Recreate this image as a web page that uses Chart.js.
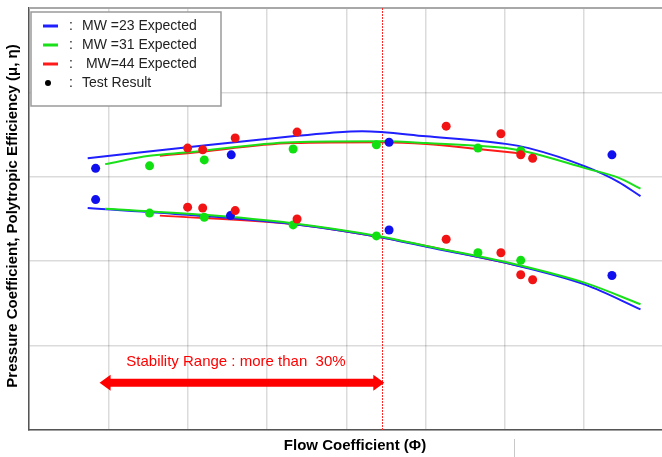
<!DOCTYPE html>
<html>
<head>
<meta charset="utf-8">
<script src="https://cdn.jsdelivr.net/npm/chart.js@4.4.1/dist/chart.umd.min.js"></script>
<style>
  html, body { margin: 0; padding: 0; background: #fff; overflow: hidden; }
  #wrap { width: 668px; height: 457px; }
</style>
</head>
<body>
<div id="wrap"><canvas id="flow-chart" width="668" height="457"></canvas></div>
<script>
// expected curves, [flow coefficient, value]
const mw23Eff = [[0.74, 3.22], [2.0, 3.35], [3.32, 3.48], [3.79, 3.52], [4.2, 3.54], [5.01, 3.48], [6.01, 3.39], [6.3, 3.34], [7.02, 3.12], [7.43, 2.94], [7.71, 2.77]];
const mw31Eff = [[0.96, 3.15], [1.52, 3.25], [2.0, 3.29], [3.32, 3.41], [4.45, 3.42], [5.01, 3.4], [6.01, 3.34], [6.3, 3.29], [7.02, 3.1], [7.43, 2.99], [7.71, 2.86]];
const mw44Eff = [[1.65, 3.25], [2.0, 3.28], [3.32, 3.4], [4.45, 3.41], [5.01, 3.39], [5.66, 3.33], [6.26, 3.27]];
const mw23Psi = [[0.74, 2.63], [2.0, 2.55], [3.32, 2.44], [4.45, 2.28], [5.01, 2.17], [6.01, 1.98], [7.02, 1.72], [7.71, 1.43]];
const mw31Psi = [[0.96, 2.62], [2.21, 2.55], [3.32, 2.45], [4.45, 2.29], [5.01, 2.18], [6.01, 1.99], [7.02, 1.74], [7.71, 1.49]];
const mw44Psi = [[1.65, 2.54], [3.32, 2.44], [4.45, 2.28], [6.01, 1.98], [6.3, 1.92]];

// test results
const mw23Test = [[0.84, 3.1], [2.55, 3.26], [4.54, 3.41], [7.35, 3.26], [0.84, 2.73], [2.54, 2.54], [4.54, 2.37], [7.35, 1.83]];
const mw31Test = [[1.52, 3.13], [2.21, 3.2], [3.33, 3.33], [4.38, 3.38], [5.66, 3.34], [6.2, 3.31], [1.52, 2.57], [2.21, 2.52], [3.33, 2.43], [4.38, 2.3], [5.66, 2.1], [6.2, 2.01]];
const mw44Test = [[2.0, 3.34], [2.19, 3.32], [2.6, 3.46], [3.38, 3.53], [5.26, 3.6], [5.95, 3.51], [6.2, 3.26], [6.35, 3.22], [2.0, 2.64], [2.19, 2.63], [2.6, 2.6], [3.38, 2.5], [5.26, 2.26], [5.95, 2.1], [6.2, 1.84], [6.35, 1.78]];

const legendLabels = ['MW =23 Expected', 'MW =31 Expected', ' MW=44 Expected', 'Test Result'];
const legendColors = ['#1f1fff', '#19e019', '#ff1a1a', '#000000'];

const stabilityLimit = 4.45;
const stabilitySpan = [0.89, 4.48];
const stabilityLevel = 0.56;
const stabilityText = 'Stability Range : more than  30%';

const xTitle = 'Flow Coefficient (Φ)';
const yTitle = 'Pressure Coefficient, Polytropic Efficiency (μ, η)';

const toPts = (arr) => arr.map(([x, y]) => ({x, y}));

// chart.js paints the first dataset on top, so marks come first here
const dots = (data, color) => ({
  type: 'scatter',
  data: toPts(data),
  backgroundColor: color,
  borderWidth: 0,
  pointRadius: 4.5,
});

const curve = (data, color) => ({
  type: 'line',
  data: toPts(data),
  borderColor: color,
  borderWidth: 2,
  pointRadius: 0,
  cubicInterpolationMode: 'monotone',
  fill: false,
});

const overlay = {
  id: 'overlay',
  beforeDatasetsDraw(chart) {
    const {ctx, chartArea: a, scales: {x}} = chart;
    ctx.save();
    ctx.strokeStyle = '#a8a8a8';
    ctx.lineWidth = 2;
    ctx.beginPath();
    ctx.moveTo(a.left, a.top);
    ctx.lineTo(a.right, a.top);
    ctx.stroke();

    const sx = Math.round(x.getPixelForValue(stabilityLimit)) + 0.5;
    ctx.strokeStyle = '#ff2a2a';
    ctx.lineWidth = 1;
    ctx.setLineDash([2, 1]);
    ctx.beginPath();
    ctx.moveTo(sx, a.top);
    ctx.lineTo(sx, a.bottom);
    ctx.stroke();
    ctx.restore();
  },
  afterDatasetsDraw(chart) {
    const {ctx, scales: {x, y}} = chart;
    ctx.save();

    // stability arrow
    const x1 = x.getPixelForValue(stabilitySpan[0]);
    const x2 = x.getPixelForValue(stabilitySpan[1]);
    const ay = y.getPixelForValue(stabilityLevel);
    const head = 11, half = 8, shaft = 4;
    ctx.fillStyle = '#ff0000';
    ctx.beginPath();
    ctx.moveTo(x1, ay);
    ctx.lineTo(x1 + head, ay - half);
    ctx.lineTo(x1 + head, ay - shaft);
    ctx.lineTo(x2 - head, ay - shaft);
    ctx.lineTo(x2 - head, ay - half);
    ctx.lineTo(x2, ay);
    ctx.lineTo(x2 - head, ay + half);
    ctx.lineTo(x2 - head, ay + shaft);
    ctx.lineTo(x1 + head, ay + shaft);
    ctx.lineTo(x1 + head, ay + half);
    ctx.closePath();
    ctx.fill();

    ctx.font = '15px "Liberation Sans", Arial, sans-serif';
    ctx.textAlign = 'center';
    ctx.textBaseline = 'middle';
    ctx.fillText(stabilityText, (x1 + x2) / 2 - 6, ay - 21);

    // legend box
    const lx = 31, ly = 12, lw = 190, lh = 94;
    ctx.fillStyle = '#fff';
    ctx.fillRect(lx, ly, lw, lh);
    ctx.strokeStyle = '#9a9a9a';
    ctx.lineWidth = 1.5;
    ctx.strokeRect(lx, ly, lw, lh);
    ctx.textAlign = 'left';
    ctx.font = '14px "Liberation Sans", Arial, sans-serif';
    legendLabels.forEach((label, i) => {
      const ry = 26 + i * 19;
      if (i < 3) {
        ctx.strokeStyle = legendColors[i];
        ctx.lineWidth = 3;
        ctx.beginPath();
        ctx.moveTo(43, ry);
        ctx.lineTo(58, ry);
        ctx.stroke();
      } else {
        ctx.fillStyle = legendColors[i];
        ctx.beginPath();
        ctx.arc(48, ry, 3, 0, Math.PI * 2);
        ctx.fill();
      }
      ctx.fillStyle = '#222';
      ctx.fillText(':', 69, ry);
      ctx.fillText(label, 82, ry);
    });

    // axis titles
    ctx.fillStyle = '#000';
    ctx.font = 'bold 15px "Liberation Sans", Arial, sans-serif';
    ctx.textAlign = 'center';
    ctx.fillText(xTitle, 355, 446);
    ctx.translate(13, 216);
    ctx.rotate(-Math.PI / 2);
    ctx.fillText(yTitle, 0, 0);
    ctx.restore();

    ctx.save();
    ctx.strokeStyle = '#c8c8c8';
    ctx.lineWidth = 1;
    ctx.beginPath();
    ctx.moveTo(514.5, 439);
    ctx.lineTo(514.5, 457);
    ctx.stroke();
    ctx.restore();
  },
};

new Chart(document.getElementById('flow-chart').getContext('2d'), {
  data: {
    datasets: [
      dots(mw44Test, '#f21414'),
      dots(mw31Test, '#10e010'),
      dots(mw23Test, '#1010ee'),
      curve(mw31Eff, '#19e019'),
      curve(mw31Psi, '#19e019'),
      curve(mw23Eff, '#1f1fff'),
      curve(mw23Psi, '#1f1fff'),
      curve(mw44Eff, '#ff1a1a'),
      curve(mw44Psi, '#ff1a1a'),
    ],
  },
  options: {
    responsive: false,
    animation: false,
    devicePixelRatio: 1,
    layout: {padding: {left: 29, top: 8, right: 3, bottom: 27}},
    scales: {
      x: {
        type: 'linear',
        min: 0,
        max: 8,
        ticks: {display: false, stepSize: 1},
        grid: {color: 'rgba(0,0,0,0.14)', lineWidth: 1.5, drawTicks: false},
        border: {display: true, color: '#555', width: 1.5},
      },
      y: {
        type: 'linear',
        min: 0,
        max: 5,
        ticks: {display: false, stepSize: 1},
        grid: {color: 'rgba(0,0,0,0.14)', lineWidth: 1.5, drawTicks: false},
        border: {display: true, color: '#555', width: 1.5},
      },
    },
    plugins: {
      legend: {display: false},
      tooltip: {enabled: false},
    },
  },
  plugins: [overlay],
});
</script>
</body>
</html>
